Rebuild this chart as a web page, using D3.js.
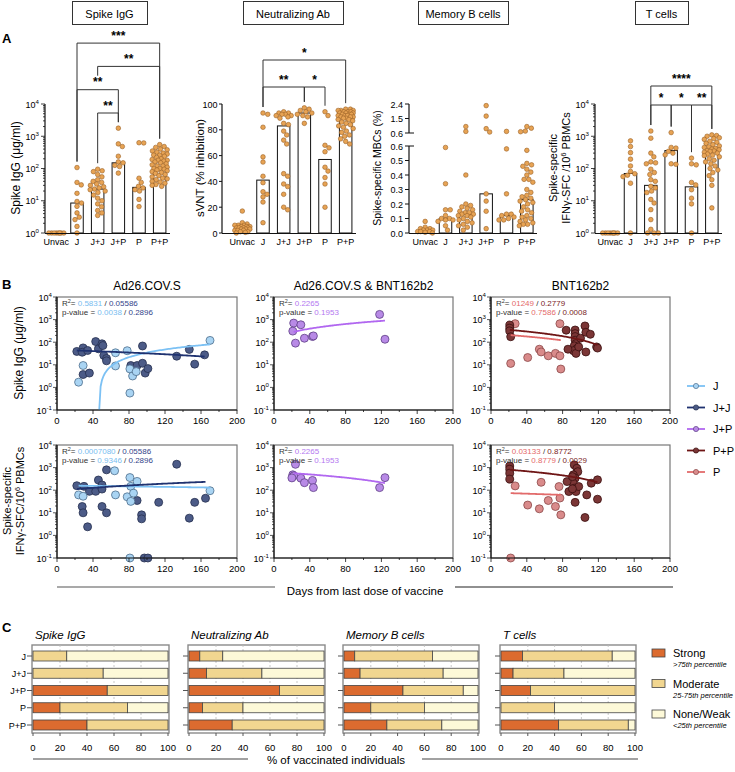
<!DOCTYPE html>
<html><head><meta charset="utf-8">
<script src="https://cdn.jsdelivr.net/npm/d3@7"></script>
<style>body{margin:0;background:#fff}</style>
</head><body>
<svg id="c" width="735" height="772"></svg>
<script>
// ================= DATA =================
const groupsA = ["Unvac","J","J+J","J+P","P","P+P"];
// Spike IgG (µg/ml)
const igG_Unvac = [1,1,1,1,1,1,1,1];
const igG_J = [107,37,31,17,9.5,8.5,6.7,4.2,3.1,2.6,1.6,1];
const igG_JJ = [95,85,80,65,55,45,40,37,33,30,27,25,23,22,20,18,15,12,10,8,6.5,5,4.2,3.5];
const igG_JP = [1780,580,480,240,160,150,125,115,72];
const igG_P = [630,620,50,37,28,25,22,20,11,6.6];
const igG_PP = [550,480,450,400,380,350,320,300,280,260,240,220,200,190,180,170,160,150,140,130,120,110,100,100,95,90,85,80,75,70,65,60,55,50,48,45,40,38,35,32,30,28,260,180,120];
const igG_bar = [1,8.5,23,150,26,100];
const igG_brackets = [["J","P+P","***",3],["J+J","P+P","**",2],["J","J+P","**",1],["J+J","J+P","**",0]];
// sVNT (% inhibition)
const nab_Unvac = [17,8,7,6,6,5,5,5,4,4,4,3,3,3,2,2,2,1,1,0.5,0,6,4];
const nab_J = [93,92,82,59,55,44,39,32,30,28,24,8];
const nab_JJ = [94,93,93,92,92,91,91,90,89,85,84,79,76,72,69,46,44,38,36,30,20,18];
const nab_JP = [97,96,95,94,93,92,91,90,85];
const nab_P = [94,91,68,66,63,51,48,43,38,20];
const nab_PP = [96,96,95,95,95,94,94,94,93,93,93,92,92,92,91,91,91,90,90,90,89,89,88,88,87,86,85,84,83,82,81,79,78,76,75,73,71,69];
const nab_bar = [4,41,83,93,57,91];
const nab_brackets = [["J","P+P","*",1],["J","J+P","**",0],["J+P","P","*",0]];
// Spike-specific MBCs (%)
const mbc_Unvac = [0.08,0.04,0.03,0.03,0.02,0.02,0.01,0.01,0.01,0.005,0.0,0.02];
const mbc_J = [0.59,0.34,0.16,0.16,0.12,0.10,0.10,0.09,0.09,0.08,0.05,0.02];
const mbc_JJ = [1.0,0.7,0.40,0.20,0.19,0.18,0.17,0.16,0.15,0.14,0.14,0.13,0.13,0.12,0.12,0.11,0.10,0.09,0.08,0.07,0.06,0.05,0.04,0.02];
const mbc_JP = [2.3,1.65,0.87,0.66,0.27,0.22,0.15,0.03];
const mbc_P = [0.7,0.58,0.27,0.13,0.13,0.12,0.11,0.10,0.09,0.09];
const mbc_PP = [1.0,0.9,0.72,0.68,0.57,0.48,0.47,0.46,0.44,0.42,0.40,0.37,0.37,0.35,0.30,0.28,0.26,0.25,0.24,0.23,0.22,0.21,0.20,0.18,0.16,0.15,0.14,0.12,0.11,0.10,0.09,0.08,0.07,0.06,0.06,0.05];
const mbc_bar = [0.01,0.10,0.13,0.27,0.12,0.23];
const mbc_brackets = [];
// IFNγ-SFC / 10^6 PBMCs
const tc_Unvac = [1,1,1,1,1,1,1,1];
const tc_J = [720,480,310,195,120,81,69,62,56,35,1];
const tc_JJ = [1450,870,300,230,160,150,140,95,75,65,45,28,20,18,11,8.5,5.3,2.6,1.3,1,1,1,40,25];
const tc_JP = [1300,450,430,340,265,140,135,300];
const tc_P = [210,140,130,37,31,22,12,8,1];
const tc_PP = [1100,1050,1000,900,850,800,700,650,600,550,500,470,450,420,400,380,360,350,340,320,300,280,260,250,230,200,180,160,140,120,100,90,75,60,45,30,6];
const tc_bar = [1,70,30,360,27,350];
const tc_brackets = [["J+J","P+P","****",1],["J+J","J+P","*",0],["J+P","P","*",0],["P","P+P","**",0]];

// Panel B : days from last dose vs response
const xTicksB = [0,40,80,120,160,200];
const igB_J_days = [24,29,65,65,78,81,81,84,88,170];
const igB_J_vals = [1.7,9.3,34,8.9,42,6.6,0.56,3.2,5,120];
const igB_JJ_days = [22,29,28,34,43,46,50,51,52,55,55,29,36,82,89,95,95,98,101,133,147,153,164];
const igB_JJ_vals = [39,56,36,43,107,51,85,71,26,19,15,3.7,4.3,9.3,9.3,68,11.7,4.3,6.8,24,48,10.7,27.5];
const igB_JP_days = [22,21,30,34,24,43,44,118,124];
const igB_JP_vals = [700,310,590,150,91,178,190,1700,135];
const igB_PP_days = [21,21,21,22,84,94,94,94,94,95,93,96,92,95,86,98,100,105,106,111,118,119,106];
const igB_PP_vals = [575,417,316,174,339,347,240,178,123,87,69,52,42,32,49,62,151,525,275,224,62,55,37];
const igB_P_days = [27,22,41,54,56,64,72,77,77,78];
const igB_P_vals = [660,11.5,21,49,37,25,32,660,25,6.5];
const tB_J_days = [24,29,64,65,78,81,82,82,85,89,81,170];
const tB_J_vals = [62,54,724,62,51,363,148,32,74,245,0.1,95];
const tB_JJ_days = [22,30,28,29,36,34,43,46,50,50,50,55,55,89,94,94,97,101,113,133,147,153,165];
const tB_JJ_vals = [158,148,19,10,89,2.4,89,282,170,112,19,794,10,35,8.1,5.4,0.1,0.1,29,1410,5.8,29,44];
const tB_JP_days = [24,21,22,20,30,34,43,44,118,124];
const tB_JP_vals = [1400,480,430,350,340,215,270,130,130,360];
const tB_PP_days = [21,21,21,21,93,96,97,92,94,92,93,95,94,98,87,91,85,107,112,119,119,105,91];
const tB_PP_vals = [1175,851,562,309,1318,933,661,479,339,204,123,87,29,145,87,115,240,62,204,288,40,6.2,398];
const tB_P_days = [22,27,41,54,56,64,72,76,77,78];
const tB_P_vals = [0.1,155,22,15,224,35,19,145,45,8.1];
// regression fits (linear in value): [group, intercept, slope, firstDay, lastDay]
const fit_igAd = [["J",-30.4,0.65,24,170],["J+J",46.1,-0.1408,22,164]];
const fit_igJP = [["J+P",158,5.98,22,124]];
const fit_igBNT = [["P+P",409,-2.806,21,119],["P",237.2,-1.464,22,78]];
const fit_tAd = [["J",162.4,-0.185,24,170],["J+J",93.2,0.853,22,165]];
const fit_tJP = [["J+P",639,-3.5,22,124]];
const fit_tBNT = [["P+P",923,-5.87,21,119],["P",78.7,-0.214,22,78]];
const stat_igAd = [["0.5831","0.05586"],["0.0038","0.2896"]];
const stat_igJP = [["0.2265"],["0.1953"]];
const stat_igBNT = [["01249","0.2779"],["0.7586","0.0008"]];
const stat_tAd = [["0.0007080","0.05586"],["0.9346","0.2896"]];
const stat_tJP = [["0.2265"],["0.1953"]];
const stat_tBNT = [["0.03133","0.8772"],["0.8779","0.0029"]];
const legendB = ["J","J+J","J+P","P+P","P"];

// Panel C
const rowsC = ["J","J+J","J+P","P","P+P"];
const ticksC = [0,20,40,60,80,100];
const igC_strong = [0,0,55,20,40], igC_mod = [25,52,45,50,60], igC_none = [75,48,0,30,0];
const nabC_strong = [8,13,67,10,32], nabC_mod = [17,41,33,30,68], nabC_none = [75,46,0,60,0];
const mbcC_strong = [8,12,44,20,32], mbcC_mod = [58,62,45,40,41], mbcC_none = [34,26,11,40,27];
const tC_strong = [16,9,22,0,43], tC_mod = [67,38,78,40,52], tC_none = [17,53,0,60,5];
const levelsC = ["Strong","Moderate","None/Weak"];
const levelsSubC = [">75th percentile","25-75th percentile","<25th percentile"];

// ================= DRAW =================
const svg = d3.select("#c").attr("font-family","'Liberation Sans', Arial, Helvetica, sans-serif");

function powText(sel, e){
  sel.append("tspan").text("10");
  sel.append("tspan").attr("dy",-4).attr("font-size","0.68em").text(e);
}
function swarm(vals, yf, cx, r, maxOff){
  const pts = vals.map(v=>({v, y:yf(v)})).sort((a,b)=>a.y-b.y);
  const placed = [], d = 2*r+0.15, offs=[0];
  for(let s=0.25;s<=maxOff;s+=0.25){offs.push(s,-s);}
  pts.forEach(p=>{
    let best=null, bestScore=-1;
    for(const o of offs){
      let md=Infinity;
      for(const q of placed){const dd=Math.hypot(q.x-o,q.y-p.y); if(dd<md) md=dd;}
      if(md>=d){best=o;break;}
      if(md>bestScore){bestScore=md;best=o;}
    }
    p.x=best; placed.push(p);
  });
  return pts.map(p=>({cx:cx+p.x, cy:p.y}));
}

// ---------- Panel A ----------
svg.append("text").attr("x",2).attr("y",43).attr("font-size",13).attr("font-weight","bold").text("A");
const base = 233;
const mbcLow = d3.scaleLinear().domain([0,0.6]).range([233,146]);
const mbcHigh = d3.scaleLinear().domain([0.6,2.4]).range([133,104]);
const mbcY = v => v<=0.6 ? mbcLow(v) : mbcHigh(v);
const panelsA = [
  {header:"Spike IgG", hx:[72,147], axisX:45, xr:[46,170], y:d3.scaleLog().domain([1,1e4]).range([233,104]), type:"log",
   data:[igG_Unvac,igG_J,igG_JJ,igG_JP,igG_P,igG_PP], bars:igG_bar, br:igG_brackets, bBase:113, bGap:23.3,
   ylab:["Spike IgG (μg/ml)"], ylx:[20], yfs:12},
  {header:"Neutralizing Ab", hx:[243,343], axisX:222, xr:[232,356], y:d3.scaleLinear().domain([0,100]).range([233,104]), type:"lin",
   data:[nab_Unvac,nab_J,nab_JJ,nab_JP,nab_P,nab_PP], bars:nab_bar, br:nab_brackets, bBase:87, bGap:27,
   ylab:["sVNT (% inhibition)"], ylx:[204], yfs:11.5},
  {header:"Memory B cells", hx:[418,508], axisX:409, xr:[415,537], y:mbcY, type:"mbc",
   data:[mbc_Unvac,mbc_J,mbc_JJ,mbc_JP,mbc_P,mbc_PP], bars:mbc_bar, br:mbc_brackets, bBase:0, bGap:0,
   ylab:["Spike-specific MBCs (%)"], ylx:[381], yfs:10.5},
  {header:"T cells", hx:[635,688], axisX:595, xr:[600,722], y:d3.scaleLog().domain([1,1e4]).range([233,104]), type:"log",
   data:[tc_Unvac,tc_J,tc_JJ,tc_JP,tc_P,tc_PP], bars:tc_bar, br:tc_brackets, bBase:105, bGap:19,
   ylab:["Spike-specific","IFNγ-SFC /10|6| PBMCs"], ylx:[557,570], yfs:11}
];
panelsA.forEach(P=>{
  const g = svg.append("g");
  // header box
  g.append("rect").attr("x",P.hx[0]+0.5).attr("y",1.5).attr("width",P.hx[1]-P.hx[0]).attr("height",23)
   .attr("fill","#fff").attr("stroke","#333").attr("stroke-width",1);
  g.append("text").attr("x",(P.hx[0]+P.hx[1])/2).attr("y",17.5).attr("text-anchor","middle").attr("font-size",11).text(P.header);
  const x = d3.scaleBand().domain(groupsA).range(P.xr);
  const cx = k => x(k)+x.bandwidth()/2;
  // bars
  const bw = 12.5;
  P.bars.forEach((b,i)=>{
    const yb = P.y(b);
    if (base-yb>0.5) g.append("rect").attr("x",cx(groupsA[i])-bw/2).attr("y",yb).attr("width",bw).attr("height",base-yb)
      .attr("fill","#fff").attr("stroke","#111").attr("stroke-width",1);
  });
  // points
  P.data.forEach((vals,i)=>{
    const pts = swarm(vals, v=>P.y(v), cx(groupsA[i]), 2.3, 7.5);
    g.selectAll(null).data(pts).enter().append("circle").attr("cx",d=>d.cx).attr("cy",d=>d.cy).attr("r",2.3)
      .attr("fill","#e7a354").attr("stroke","#9a6226").attr("stroke-width",0.6);
  });
  // x axis
  g.append("line").attr("x1",P.axisX).attr("x2",P.xr[1]).attr("y1",base+0.5).attr("y2",base+0.5).attr("stroke","#111").attr("stroke-width",1.2);
  groupsA.forEach(k=>{
    g.append("text").attr("x",cx(k)).attr("y",base+12).attr("text-anchor","middle").attr("font-size",9).text(k);
  });
  // y axis
  const ax = P.axisX;
  if (P.type==="log"){
    g.append("line").attr("x1",ax).attr("x2",ax).attr("y1",P.y(1e4)).attr("y2",base).attr("stroke","#111").attr("stroke-width",1.2);
    P.y.ticks().forEach(t=>{
      const e = Math.log10(t), major = Math.abs(e-Math.round(e))<1e-9;
      g.append("line").attr("x1",ax-(major?4:2)).attr("x2",ax).attr("y1",P.y(t)).attr("y2",P.y(t)).attr("stroke","#111").attr("stroke-width",0.8);
      if(major) g.append("text").attr("x",ax-6).attr("y",P.y(t)+3.5).attr("text-anchor","end").attr("font-size",9).call(s=>powText(s,Math.round(e)));
    });
  } else if (P.type==="lin"){
    g.append("line").attr("x1",ax).attr("x2",ax).attr("y1",P.y(100)).attr("y2",base).attr("stroke","#111").attr("stroke-width",1.2);
    P.y.ticks(5).forEach(t=>{
      g.append("line").attr("x1",ax-3).attr("x2",ax).attr("y1",P.y(t)).attr("y2",P.y(t)).attr("stroke","#111");
      g.append("text").attr("x",ax-4.5).attr("y",P.y(t)+3.5).attr("text-anchor","end").attr("font-size",9).text(t);
    });
  } else {
    g.append("line").attr("x1",ax).attr("x2",ax).attr("y1",mbcLow(0.6)).attr("y2",base).attr("stroke","#111").attr("stroke-width",1.2);
    g.append("line").attr("x1",ax).attr("x2",ax).attr("y1",mbcHigh(2.4)).attr("y2",mbcHigh(0.6)).attr("stroke","#111").attr("stroke-width",1.2);
    d3.range(0,0.61,0.1).forEach(t=>{
      const top = t>0.55;
      g.append("line").attr("x1",ax-4).attr("x2",ax+(top?5:0)).attr("y1",mbcLow(t)).attr("y2",mbcLow(t)).attr("stroke","#111");
      g.append("text").attr("x",ax-6).attr("y",mbcLow(t)+3.5).attr("text-anchor","end").attr("font-size",9).text(t.toFixed(1));
    });
    [0.6,1.5,2.4].forEach(t=>{
      const bot = t<0.7;
      g.append("line").attr("x1",ax-4).attr("x2",ax+(bot?5:0)).attr("y1",mbcHigh(t)).attr("y2",mbcHigh(t)).attr("stroke","#111");
      g.append("text").attr("x",ax-6).attr("y",mbcHigh(t)+3.5).attr("text-anchor","end").attr("font-size",9).text(t.toFixed(1));
    });
  }
  // y label
  const cyl = 168;
  P.ylab.forEach((lab,i)=>{
    const t = g.append("text").attr("transform",`translate(${P.ylx[i]},${cyl}) rotate(-90)`).attr("text-anchor","middle").attr("font-size",P.yfs);
    const parts = lab.split("|");
    if(parts.length===1) t.text(lab);
    else { t.append("tspan").text(parts[0]); t.append("tspan").attr("dy",-4).attr("font-size","0.65em").text(parts[1]); t.append("tspan").attr("dy",4).text(parts[2]); }
  });
  // brackets
  const topY = k => P.y(d3.max(P.data[groupsA.indexOf(k)])) - 6;
  P.br.forEach(([a,b,lab,tier])=>{
    const yb = P.bBase - tier*P.bGap;
    const xa = cx(a), xb = cx(b);
    const legEnd = k => {
      const xi = groupsA.indexOf(k);
      let end = topY(k);
      P.br.forEach(([a2,b2,,t2])=>{
        if(t2<tier){
          const i1=groupsA.indexOf(a2), i2=groupsA.indexOf(b2);
          if(xi>i1 && xi<i2){ const y2 = P.bBase - t2*P.bGap; end = Math.min(end, Math.max(yb+4, y2-14)); }
        }
      });
      return end;
    };
    g.append("path").attr("d",`M${xa},${legEnd(a)}V${yb}H${xb}V${legEnd(b)}`).attr("fill","none").attr("stroke","#333").attr("stroke-width",1);
    g.append("text").attr("x",(xa+xb)/2).attr("y",yb-3.5).attr("text-anchor","middle").attr("font-size",12).attr("font-weight","bold").text(lab);
  });
});

// ---------- Panel B ----------
svg.append("text").attr("x",2).attr("y",289).attr("font-size",13).attr("font-weight","bold").text("B");
const colB = {
  "J":   {fill:"#a9d4f3", stroke:"#4d6d8c", line:"#7cc1f4", txt:"#79bdf0"},
  "J+J": {fill:"#4c5b87", stroke:"#26304f", line:"#1f3270", txt:"#34448a"},
  "J+P": {fill:"#b88ae6", stroke:"#5e3f85", line:"#b167f0", txt:"#b478f0"},
  "P+P": {fill:"#7b3636", stroke:"#3a0f0f", line:"#6e1515", txt:"#7a1e1e"},
  "P":   {fill:"#d98b8b", stroke:"#8a4747", line:"#e26b6b", txt:"#e46a6a"}
};
const colX = [[57,237],[274,453],[491,670]];
const rowY = [[297,410],[445,558]];
const titlesB = ["Ad26.COV.S","Ad26.COV.S & BNT162b2","BNT162b2"];
const plotsB = [
  {r:0,c:0, series:[["J+J",igB_JJ_days,igB_JJ_vals],["J",igB_J_days,igB_J_vals]], fits:fit_igAd, stat:stat_igAd, keys:["J","J+J"]},
  {r:0,c:1, series:[["J+P",igB_JP_days,igB_JP_vals]], fits:fit_igJP, stat:stat_igJP, keys:["J+P"]},
  {r:0,c:2, series:[["P",igB_P_days,igB_P_vals],["P+P",igB_PP_days,igB_PP_vals]], fits:fit_igBNT, stat:stat_igBNT, keys:["P","P+P"]},
  {r:1,c:0, series:[["J+J",tB_JJ_days,tB_JJ_vals],["J",tB_J_days,tB_J_vals]], fits:fit_tAd, stat:stat_tAd, keys:["J","J+J"]},
  {r:1,c:1, series:[["J+P",tB_JP_days,tB_JP_vals]], fits:fit_tJP, stat:stat_tJP, keys:["J+P"]},
  {r:1,c:2, series:[["P",tB_P_days,tB_P_vals],["P+P",tB_PP_days,tB_PP_vals]], fits:fit_tBNT, stat:stat_tBNT, keys:["P","P+P"]}
];
plotsB.forEach(P=>{
  const [x0,x1] = colX[P.c], [y0,y1] = rowY[P.r];
  const x = d3.scaleLinear().domain([0,200]).range([x0,x1]);
  const y = d3.scaleLog().domain([0.1,1e4]).range([y1,y0]);
  const g = svg.append("g");
  g.append("rect").attr("x",x0).attr("y",y0).attr("width",x1-x0).attr("height",y1-y0).attr("fill","#fff").attr("stroke","#777").attr("stroke-width",1.2);
  if(P.r===0) g.append("text").attr("x",(x0+x1)/2).attr("y",y0-7).attr("text-anchor","middle").attr("font-size",12).text(titlesB[P.c]);
  // points
  P.series.forEach(([k,ds,vs])=>{
    g.selectAll(null).data(ds.map((d,i)=>[d,vs[i]])).enter().append("circle")
      .attr("cx",d=>x(d[0])).attr("cy",d=>y(Math.max(0.1,d[1]))).attr("r",4)
      .attr("fill",colB[k].fill).attr("stroke",colB[k].stroke).attr("stroke-width",0.8);
  });
  // fits
  P.fits.forEach(([k,a,b,d0,d1])=>{
    let s = d0;
    if (a+b*s < 0.1 && b>0) s = (0.1-a)/b;
    const pts = d3.range(0,81).map(i=>s+(d1-s)*i/80).map(d=>[x(d), y(Math.max(0.1,a+b*d))]);
    g.append("path").attr("d",d3.line()(pts)).attr("fill","none").attr("stroke",colB[k].line).attr("stroke-width",1.8);
  });
  // axes
  g.append("line").attr("x1",x0).attr("x2",x0).attr("y1",y0).attr("y2",y1).attr("stroke","#111").attr("stroke-width",1.2);
  g.append("line").attr("x1",x0).attr("x2",x1).attr("y1",y1).attr("y2",y1).attr("stroke","#111").attr("stroke-width",1.2);
  y.ticks().forEach(t=>{
    const e = Math.log10(t), major = Math.abs(e-Math.round(e))<1e-9;
    g.append("line").attr("x1",x0-(major?4:2)).attr("x2",x0).attr("y1",y(t)).attr("y2",y(t)).attr("stroke","#111").attr("stroke-width",0.7);
    if(major) g.append("text").attr("x",x0-5).attr("y",y(t)+3.5).attr("text-anchor","end").attr("font-size",9).call(s=>powText(s,Math.round(e)));
  });
  d3.range(0,201,20).forEach(t=>{
    const major = t%40===0;
    g.append("line").attr("x1",x(t)).attr("x2",x(t)).attr("y1",y1).attr("y2",y1+(major?4:2)).attr("stroke","#111").attr("stroke-width",0.8);
  });
  xTicksB.forEach(t=>g.append("text").attr("x",x(t)).attr("y",y1+14).attr("text-anchor","middle").attr("font-size",9.5).text(t));
  // stats
  P.stat.forEach((vals,li)=>{
    const t = g.append("text").attr("x",x0+5).attr("y",y0+9+li*9).attr("font-size",8).attr("fill","#333");
    if(li===0){ t.append("tspan").text("R"); t.append("tspan").attr("dy",-3).attr("font-size",5.5).text("2"); t.append("tspan").attr("dy",3).text("= "); }
    else t.append("tspan").text("p-value = ");
    vals.forEach((v,vi)=>{
      if(vi>0) t.append("tspan").attr("fill","#333").text(" / ");
      t.append("tspan").attr("fill",colB[P.keys[vi]].txt).text(v);
    });
  });
});
// y labels for B
svg.append("text").attr("transform","translate(23,353) rotate(-90)").attr("text-anchor","middle").attr("font-size",12).text("Spike IgG (μg/ml)");
svg.append("text").attr("transform","translate(11,501) rotate(-90)").attr("text-anchor","middle").attr("font-size",11).text("Spike-specific");
{
  const t = svg.append("text").attr("transform","translate(24,501) rotate(-90)").attr("text-anchor","middle").attr("font-size",11);
  t.append("tspan").text("IFNγ-SFC/10"); t.append("tspan").attr("dy",-4).attr("font-size","0.65em").text("6"); t.append("tspan").attr("dy",4).text(" PBMCs");
}
// x label B
svg.append("line").attr("x1",57).attr("x2",275).attr("y1",587).attr("y2",587).attr("stroke","#555").attr("stroke-width",1.2);
svg.append("line").attr("x1",455).attr("x2",673).attr("y1",587).attr("y2",587).attr("stroke","#222").attr("stroke-width",1.2);
svg.append("text").attr("x",365).attr("y",595).attr("text-anchor","middle").attr("font-size",11.5).text("Days from last dose of vaccine");
// legend B
const ly = d3.scalePoint().domain(legendB).range([386,472]);
legendB.forEach(k=>{
  svg.append("line").attr("x1",687).attr("x2",705).attr("y1",ly(k)).attr("y2",ly(k)).attr("stroke",colB[k].line).attr("stroke-width",1.8);
  svg.append("circle").attr("cx",696).attr("cy",ly(k)).attr("r",2.6).attr("fill",colB[k].fill).attr("stroke",colB[k].stroke).attr("stroke-width",0.7);
  svg.append("text").attr("x",713).attr("y",ly(k)+4).attr("font-size",11).text(k);
});

// ---------- Panel C ----------
svg.append("text").attr("x",2).attr("y",632).attr("font-size",13).attr("font-weight","bold").text("C");
const colC = {Strong:"#dc6b2f", Moderate:"#f1d690", "None/Weak":"#fdf9d8"};
const panelsC = [
  {title:"Spike IgG", bx:[32,169], s:igC_strong, m:igC_mod, n:igC_none, labels:true},
  {title:"Neutralizing Ab", bx:[188,325], s:nabC_strong, m:nabC_mod, n:nabC_none},
  {title:"Memory B cells", bx:[343,479], s:mbcC_strong, m:mbcC_mod, n:mbcC_none},
  {title:"T cells", bx:[500,636], s:tC_strong, m:tC_mod, n:tC_none}
];
const by0 = 645, by1 = 733;
const yc = d3.scalePoint().domain(rowsC).range([656,725]);
panelsC.forEach(P=>{
  const g = svg.append("g");
  const x = d3.scaleLinear().domain([0,100]).range([P.bx[0]+1,P.bx[1]-1]);
  g.append("text").attr("x",P.bx[0]+3).attr("y",by0-6).attr("font-size",11.5).attr("font-style","italic").text(P.title);
  g.append("rect").attr("x",P.bx[0]).attr("y",by0).attr("width",P.bx[1]-P.bx[0]).attr("height",by1-by0).attr("fill","#fff").attr("stroke","#8a8a8a").attr("stroke-width",1.4);
  [20,40,60,80].forEach(t=>g.append("line").attr("x1",x(t)).attr("x2",x(t)).attr("y1",by0).attr("y2",by1).attr("stroke","#bbb").attr("stroke-dasharray","2,2").attr("stroke-width",0.8));
  const rows = rowsC.map((r,i)=>({row:r, Strong:P.s[i], Moderate:P.m[i], "None/Weak":P.n[i]}));
  const st = d3.stack().keys(levelsC)(rows);
  const bh = 10;
  st.forEach(layer=>{
    layer.forEach(d=>{
      if(d[1]-d[0]<=0) return;
      g.append("rect").attr("x",x(d[0])).attr("y",yc(d.data.row)-bh/2).attr("width",x(d[1])-x(d[0])).attr("height",bh)
        .attr("fill",colC[layer.key]).attr("stroke","#444").attr("stroke-width",0.8);
    });
  });
  rowsC.forEach(r=>{
    g.append("line").attr("x1",P.bx[0]-5).attr("x2",P.bx[0]).attr("y1",yc(r)).attr("y2",yc(r)).attr("stroke","#555");
    if(P.labels) g.append("text").attr("x",P.bx[0]-6).attr("y",yc(r)+3.5).attr("text-anchor","end").attr("font-size",9).text(r);
  });
  ticksC.forEach(t=>{
    g.append("line").attr("x1",x(t)).attr("x2",x(t)).attr("y1",by1).attr("y2",by1+3).attr("stroke","#555");
    g.append("text").attr("x",x(t)).attr("y",by1+18).attr("text-anchor","middle").attr("font-size",9.5).text(t);
  });
});
svg.append("line").attr("x1",33).attr("x2",248).attr("y1",759).attr("y2",759).attr("stroke","#444").attr("stroke-width",1.2);
svg.append("line").attr("x1",422).attr("x2",638).attr("y1",759).attr("y2",759).attr("stroke","#444").attr("stroke-width",1.2);
svg.append("text").attr("x",336).attr("y",764).attr("text-anchor","middle").attr("font-size",11.5).text("% of vaccinated individuals");
// legend C
const lyc = d3.scalePoint().domain(levelsC).range([653,714]);
levelsC.forEach((k,i)=>{
  svg.append("rect").attr("x",652).attr("y",lyc(k)-4).attr("width",13).attr("height",8).attr("fill",colC[k]).attr("stroke","#444").attr("stroke-width",0.8);
  svg.append("text").attr("x",673).attr("y",lyc(k)+4).attr("font-size",11).text(k);
  svg.append("text").attr("x",673).attr("y",lyc(k)+14).attr("font-size",7.5).attr("font-style","italic").text(levelsSubC[i]);
});
</script>
</body></html>
